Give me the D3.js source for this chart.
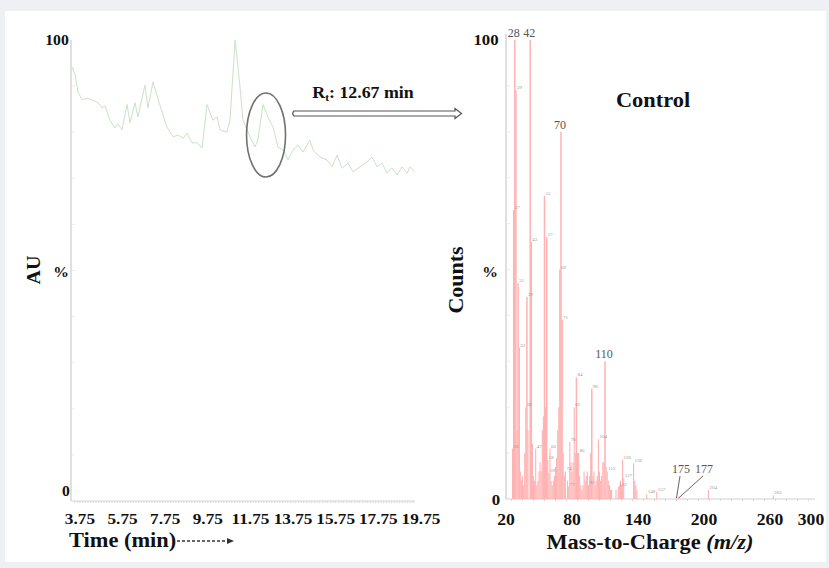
<!DOCTYPE html>
<html><head><meta charset="utf-8">
<script src="https://cdn.jsdelivr.net/npm/d3@7"></script>
<style>body{margin:0;background:#eef0f3;} svg{display:block}</style>
</head><body><svg id="c" width="829" height="568"></svg>
<script>
// ---- Chromatogram (left) ----
const chromTime = [3.36,3.40,3.52,3.66,3.85,4.08,4.32,4.60,4.78,4.93,5.16,5.39,5.53,5.72,5.96,6.10,6.33,6.47,6.80,6.94,7.18,7.51,7.83,8.12,8.35,8.59,8.77,9.01,9.24,9.48,9.71,9.99,10.18,10.32,10.65,10.79,11.03,11.26,11.40,11.73,11.96,12.10,12.34,12.57,12.81,13.04,13.28,13.51,13.75,13.98,14.22,14.54,14.69,15.01,15.34,15.58,15.81,16.05,16.33,16.56,16.89,17.22,17.45,17.69,17.92,18.16,18.39,18.63,18.86,19.10,19.24,19.47];
const chromAU   = [93.5,94.0,92.4,88.7,87.0,87.4,87.0,86.4,85.3,85.7,82.6,80.9,81.8,80.5,86.0,82.0,86.4,83.3,90.2,85.3,90.9,85.7,81.1,79.0,79.4,78.7,79.8,77.7,77.7,76.6,86.0,82.6,83.3,80.5,80.0,82.6,100.0,89.8,82.6,79.0,76.8,78.3,86.0,83.3,81.1,76.8,76.1,74.0,76.1,77.2,75.7,78.3,76.1,74.6,74.0,72.5,75.0,72.2,73.3,71.4,72.5,73.5,74.6,72.5,73.3,71.1,72.2,70.7,72.5,71.1,72.5,71.4];
const timeTicks = [3.75,5.75,7.75,9.75,11.75,13.75,15.75,17.75,19.75];
const retentionTime = 12.34; // circled peak (labelled Rt 12.67 min)

// ---- Mass spectrum (right) ----
const mzValues = [26,27,28,29,30,31,32,33,34,35,36,37,38,39,40,42,43,44,45,46,47,48,49,50,51,52,53,54,55,56,57,58,59,60,61,62,63,64,65,66,67,68,69,70,71,72,73,74,76,77,78,79,80,81,82,83,84,85,86,87,88,89,90,91,92,93,94,95,96,97,98,99,100,101,102,103,104,105,106,107,108,109,110,111,112,113,114,115,116,120,122,123,124,125,126,127,136,137,138,139,148,157,175,177,204,263];
const mzCounts = [11,63,100,89,15,47,33,6,4,5,3,10,20,44,15,100,56,12,5,4,11,3,4,6,8,6,15,18,66,20,57,8.5,5.7,11,4,3,4,5,7,9,15,20,50,80,39,10,5,6,4,2.7,12.5,8,6,8,20,10,26.5,10,10,5,3,2,3,6,4,5,6,3,5,10,24,5,6,3,4,5,13,6,4,5,8,8,30,7,6,4,3,2,2,2,2.6,3,4,3,8.5,4.5,7.8,4,3,2,1,1.5,0.5,0.5,2,0.8];
const mzSmallLabels = [26,27,29,31,32,38,39,43,47,55,57,58,59,60,69,71,74,77,78,82,84,86,95,98,104,112,122,126,127,136,148,157,204,263];
const mzMajorLabels = [28,42,70,110];
const mzTicks = [20,80,140,200,260,300];

const svg = d3.select('#c');
const SERIF = '"Liberation Serif","Times New Roman",serif';
svg.append('rect').attr('x',5).attr('y',11).attr('width',821).attr('height',551).attr('fill','#fff');

function txt(g, x, y, s, o={}) {
  const t = g.append('text')
    .attr('transform', `translate(${x},${y}) ${o.rot?'rotate(-90)':''} scale(${o.sx||1.12},1)`)
    .attr('text-anchor', o.anchor||'middle')
    .style('font-family', SERIF)
    .style('font-size', (o.size||14)+'px')
    .style('font-weight', o.bold===false?'normal':'bold')
    .attr('fill', o.fill||'#111');
  if (s!==null) t.text(s);
  return t;
}

// ===== Left chart =====
const xL = d3.scaleLinear().domain([3.33,19.47]).range([71,415]);
const yL = d3.scaleLinear().domain([0,100]).range([501,40]);
const gL = svg.append('g');
gL.append('line').attr('x1',xL(3.33)).attr('x2',xL(3.33)).attr('y1',yL(100)).attr('y2',yL(0)).attr('stroke','#d6d6d6').attr('stroke-width',1.5);
gL.selectAll('.yt').data(d3.range(10,100,10)).join('line').attr('x1',72).attr('x2',75).attr('y1',d=>yL(d)).attr('y2',d=>yL(d)).attr('stroke','#ececec');
gL.append('line').attr('x1',xL(3.33)).attr('x2',xL(19.47)).attr('y1',yL(0)).attr('y2',yL(0)).attr('stroke','#d4d4d4').attr('stroke-width',1);
gL.selectAll('.xt').data(d3.range(3.5,19.5,0.125)).join('line').attr('x1',d=>xL(d)).attr('x2',d=>xL(d)).attr('y1',yL(0)).attr('y2',yL(0)+2).attr('stroke','#d6d6d6');
gL.append('path').datum(chromTime.map((t,i)=>[t,chromAU[i]]))
  .attr('d', d3.line().x(d=>xL(d[0])).y(d=>yL(d[1])))
  .attr('fill','none').attr('stroke','#c8e2c8').attr('stroke-width',1);
timeTicks.forEach(t => txt(gL, xL(t), 524, String(t), {size:15, sx:1.15}));
txt(gL, 57, 45, '100', {size:14});
txt(gL, 66, 496, '0', {size:14});
txt(gL, 61, 277, '%', {size:14});
txt(gL, 40, 270, 'AU', {size:19, rot:true, sx:1.05});
txt(gL, 69, 547, 'Time (min)', {size:20, anchor:'start'});
gL.append('line').attr('x1',177).attr('x2',228).attr('y1',541).attr('y2',541).attr('stroke','#333').attr('stroke-width',1.4).attr('stroke-dasharray','3,2');
gL.append('path').attr('d','M227,538 L234,541 L227,544 Z').attr('fill','#333');
gL.append('ellipse').attr('cx',xL(retentionTime)+3).attr('cy',135).attr('rx',19.5).attr('ry',42)
  .attr('fill','none').attr('stroke','#707070').attr('stroke-width',1.6);
gL.append('path').attr('d','M294,111 L455,111 L455,108.5 L461.5,113.5 L455,118.5 L455,116 L294,116 Q291.5,113.5 294,111 Z')
  .attr('fill','#fff').attr('stroke','#555').attr('stroke-width',1.2);
const rt = txt(gL, 363, 98, null, {size:17, sx:1.05});
rt.append('tspan').text('R');
rt.append('tspan').attr('dy',3).style('font-size','11px').text('t');
rt.append('tspan').attr('dy',-3).text(': 12.67 min');

// ===== Right chart =====
const xR = d3.scaleLinear().domain([20,300]).range([506,814]);
const yR = d3.scaleLinear().domain([0,100]).range([499,40]);
const gR = svg.append('g');
gR.append('line').attr('x1',xR(20)).attr('x2',xR(20)).attr('y1',yR(100)-6).attr('y2',yR(0)).attr('stroke','#d6d6d6').attr('stroke-width',1.5);
gR.selectAll('.yt').data(d3.range(10,100,10)).join('line').attr('x1',xR(20)+1).attr('x2',xR(20)+4).attr('y1',d=>yR(d)).attr('y2',d=>yR(d)).attr('stroke','#ececec');
gR.append('line').attr('x1',xR(20)).attr('x2',815).attr('y1',yR(0)).attr('y2',yR(0)).attr('stroke','#d0d0d0');
gR.selectAll('.xt').data(d3.range(25,300,10)).join('line').attr('x1',d=>xR(d)).attr('x2',d=>xR(d)).attr('y1',yR(0)).attr('y2',yR(0)+2).attr('stroke','#d6d6d6');
gR.selectAll('.pk').data(mzValues.map((m,i)=>[m,mzCounts[i]])).join('line')
  .attr('x1',d=>xR(d[0])).attr('x2',d=>xR(d[0])).attr('y1',yR(0)).attr('y2',d=>yR(d[1]))
  .attr('stroke','#ffb2b2').attr('stroke-width',d=>d[1]>20?1.5:1.1);
mzSmallLabels.forEach(m => {
  const c = mzCounts[mzValues.indexOf(m)];
  txt(gR, xR(m)+1, yR(c)-1, String(m), {size:5, bold:false, fill:'#999', anchor:'start', sx:1});
});
mzMajorLabels.forEach(m => {
  const c = mzCounts[mzValues.indexOf(m)];
  txt(gR, xR(m)-1, yR(c)-3, String(m), {size:12, bold:false, fill:'#555', sx:1});
});
[[175,681],[177,704]].forEach(([m,lx]) => {
  txt(gR, lx, 473, String(m), {size:12, bold:false, fill:'#555', sx:1});
  gR.append('line').attr('x1',lx-1).attr('y1',476).attr('x2',xR(m)).attr('y2',yR(0)-1).attr('stroke','#666').attr('stroke-width',1);
});
mzTicks.forEach(m => txt(gR, Math.min(xR(m), 811), 525, String(m), {size:16, sx:1.1}));
txt(gR, 486, 45, '100', {size:15});
txt(gR, 496, 505, '0', {size:15});
txt(gR, 490, 277, '%', {size:14});
txt(gR, 463, 280, 'Counts', {size:20, rot:true, sx:1.1});
const mt = txt(gR, 650, 549, null, {size:20});
mt.append('tspan').text('Mass-to-Charge ');
mt.append('tspan').style('font-style','italic').text('(m/z)');
txt(gR, 653, 107, 'Control', {size:20});
</script></body></html>
